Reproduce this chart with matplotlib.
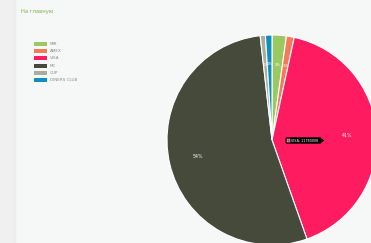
import matplotlib
matplotlib.use("Agg")
import matplotlib.pyplot as plt
from matplotlib.patches import Rectangle, FancyBboxPatch, Polygon

categories = ["MIR", "AMEX", "VISA", "MC", "CUP", "DINERS CLUB"]
values = [629000, 343000, 11780008, 15326000, 229000, 286000]
colors = ["#9bc961", "#f47b58", "#ff1b60", "#454a3b", "#a9ad9f", "#0e8fbd"]
title = "На главную"

W, H = 371, 243
fig = plt.figure(figsize=(W / 100, H / 100), dpi=100)
fig.patch.set_facecolor("#f6f7f7")
ax = fig.add_axes([0, 0, 1, 1])
ax.set_xlim(0, W)
ax.set_ylim(0, H)
ax.set_aspect("equal")
ax.axis("off")

# left sidebar strip with soft shadow
ax.add_patch(Rectangle((0, 0), 14, H, facecolor="#f0f0f0", edgecolor="none"))
for k, c in enumerate(["#ebebeb", "#eeeeee", "#f2f3f3"]):
    ax.add_patch(Rectangle((14 + k, 0), 1, H, facecolor=c, edgecolor="none"))

ax.text(21, H - 12, title, fontsize=3.8, color="#7cb342", va="center", ha="left")

# legend
for i, (c, col) in enumerate(zip(categories, colors)):
    y = H - 44 - i * 7.2
    ax.add_patch(Rectangle((34, y - 2), 13, 4, facecolor=col, edgecolor="none"))
    ax.text(50, y, c, fontsize=3.0, color="#8a8a8a", va="center", ha="left")

total = sum(values)
wedges, texts, autotexts = ax.pie(
    values, colors=colors, center=(272, 103), radius=105,
    startangle=90, counterclock=False,
    wedgeprops=dict(edgecolor="white", linewidth=0.8),
    autopct=lambda p: f"{p:.0f}%", pctdistance=0.72,
    textprops=dict(color="white", fontsize=3.4),
)
ax.set_xlim(0, W)
ax.set_ylim(0, H)
for i, t in enumerate(autotexts):
    t.set_color("white")
    if values[i] / total < 0.05:
        t.set_fontsize(2.6)

# tooltip for VISA
yc = H - 140.5
ax.add_patch(FancyBboxPatch((285.5, yc - 3.2), 36, 6.4,
                            boxstyle="round,pad=0,rounding_size=1.5",
                            facecolor="black", edgecolor="none"))
ax.add_patch(Polygon([[321.5, yc + 2], [324.5, yc], [321.5, yc - 2]],
                     closed=True, facecolor="black", edgecolor="none"))
ax.add_patch(Rectangle((287, yc - 1.7), 3.4, 3.4, facecolor=colors[2],
                       edgecolor="white", linewidth=0.3))
ax.text(291.3, yc, f"VISA: {values[2]}", fontsize=2.45, color="white",
        va="center", ha="left")

fig.savefig("out.png", dpi=100, facecolor=fig.get_facecolor())
